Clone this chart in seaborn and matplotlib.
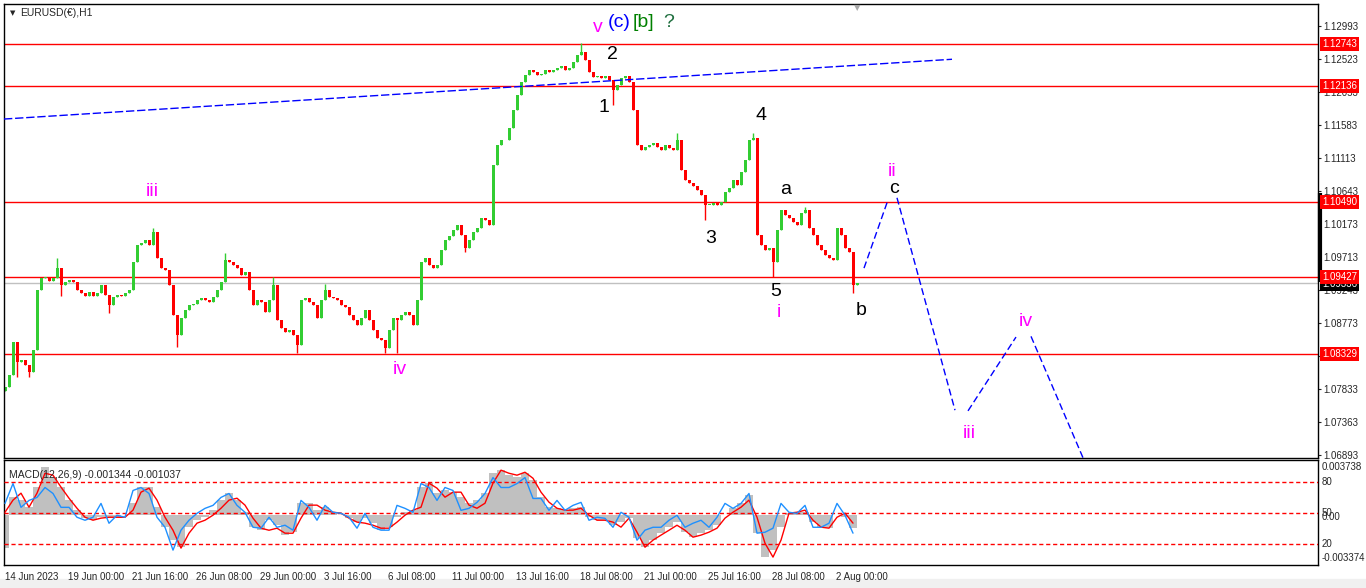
import numpy as np
import matplotlib
matplotlib.use("Agg")
import matplotlib.pyplot as plt
import matplotlib.transforms as mtransforms
import seaborn as sns

# EURUSD H1, closes every 4 bars (bar 0 = 14 Jun 2023 08:00)
closes = [
    1.0786, 1.0803, 1.0850, 1.0822, 1.0824, 1.0817, 1.0807, 1.0839, 1.0924, 1.0941,
    1.0942, 1.0937, 1.0941, 1.0955, 1.0931, 1.0935, 1.0938, 1.0935, 1.0924, 1.0920,
    1.0915, 1.0921, 1.0915, 1.0920, 1.0931, 1.0917, 1.0903, 1.0914, 1.0917, 1.0915,
    1.0920, 1.0924, 1.0964, 1.0988, 1.0991, 1.0995, 1.0988, 1.1006, 1.0969, 1.0955,
    1.0952, 1.0931, 1.0888, 1.0860, 1.0884, 1.0896, 1.0903, 1.0904, 1.0910, 1.0913,
    1.0910, 1.0907, 1.0914, 1.0924, 1.0935, 1.0967, 1.0964, 1.0960, 1.0955, 1.0945,
    1.0950, 1.0924, 1.0903, 1.0910, 1.0907, 1.0893, 1.0910, 1.0931, 1.0881, 1.0870,
    1.0864, 1.0867, 1.0860, 1.0846, 1.0910, 1.0913, 1.0907, 1.0903, 1.0884, 1.0910,
    1.0924, 1.0914, 1.0913, 1.0910, 1.0903, 1.0900, 1.0888, 1.0881, 1.0874, 1.0884,
    1.0896, 1.0881, 1.0867, 1.0856, 1.0853, 1.0841, 1.0867, 1.0884, 1.0881, 1.0888,
    1.0893, 1.0888, 1.0874, 1.0910, 1.0964, 1.0969, 1.0960, 1.0955, 1.0960, 1.0981,
    1.0995, 1.1001, 1.1009, 1.1016, 1.1002, 1.0984, 1.0995, 1.1006, 1.1012, 1.1026,
    1.1024, 1.1016, 1.1102, 1.1130, 1.1137, 1.1137, 1.1154, 1.1180, 1.1201, 1.1220,
    1.1230, 1.1237, 1.1234, 1.1230, 1.1231, 1.1237, 1.1234, 1.1237, 1.1240, 1.1242,
    1.1237, 1.1240, 1.1248, 1.1258, 1.1262, 1.1251, 1.1234, 1.1227, 1.1228, 1.1225,
    1.1228, 1.1223, 1.1208, 1.1215, 1.1225, 1.1228, 1.1220, 1.1180, 1.1130, 1.1123,
    1.1127, 1.1130, 1.1133, 1.1127, 1.1123, 1.1130, 1.1126, 1.1123, 1.1137, 1.1095,
    1.1080, 1.1076, 1.1072, 1.1066, 1.1059, 1.1045, 1.1045, 1.1048, 1.1045, 1.1049,
    1.1063, 1.1069, 1.1080, 1.1073, 1.1092, 1.1109, 1.1137, 1.1140, 1.1002, 1.0988,
    1.0981, 1.0984, 1.0964, 1.1009, 1.1038, 1.1031, 1.1026, 1.1021, 1.1016, 1.1033,
    1.1038, 1.1012, 1.1002, 1.0988, 1.0981, 1.0974, 1.0969, 1.0967, 1.1012, 1.1002,
    1.0984, 1.0978, 1.0931, 1.0934,
]
first_open = 1.0780

# long wicks (candle index, price)
wick_hi_idx = [13, 37, 55, 67, 80, 144, 168, 187, 200]
wick_hi = [1.0969, 1.1012, 1.0977, 1.0942, 1.0932, 1.1275, 1.1147, 1.1147, 1.1042]
wick_lo_idx = [3, 6, 14, 26, 43, 73, 95, 98, 115, 152, 175, 192, 212]
wick_lo = [1.0800, 1.0800, 1.0916, 1.0891, 1.0843, 1.0835, 1.0835, 1.0835,
           1.0978, 1.1187, 1.1023, 1.0943, 1.0919]

# horizontal levels
red_levels = [1.12743, 1.12136, 1.10490, 1.09427, 1.08329]
bid_price = 1.09336
price_ticks = [1.12993, 1.12523, 1.12053, 1.11583, 1.11113, 1.10643, 1.10173,
               1.09713, 1.09243, 1.08773, 1.08303, 1.07833, 1.07363, 1.06893]

# blue dashed trend line
trend_bars = [-1, 947]
trend_prices = [1.1167, 1.1252]

# projected wave path (dashed), one pair per segment
proj_bars = [[859, 883], [892, 950], [963, 1011], [1026, 1079]]
proj_prices = [[1.0955, 1.1052], [1.1055, 1.0753], [1.0752, 1.0857], [1.0858, 1.0682]]

# indicator window, sampled every 8 bars
macd_hist = [
    -0.00223, 0.00122, 0.00102, 0.00054, 0.00190, 0.00325, 0.00257, 0.00190, 0.00102, 0.00034,
    -0.00020, -0.00034, -0.00014, -0.00014, -0.00020, 0.00000, 0.00081, 0.00190, 0.00190, 0.00054,
    -0.00081, -0.00169, -0.00217, -0.00081, -0.00034, -0.00014, 0.00034, 0.00102, 0.00149, 0.00102,
    0.00020, -0.00081, -0.00102, -0.00034, -0.00068, -0.00135, -0.00115, 0.00081, 0.00081, 0.00034,
    0.00054, 0.00020, 0.00000, -0.00020, -0.00047, -0.00020, -0.00054, -0.00102, -0.00081, -0.00014,
    0.00020, 0.00034, 0.00190, 0.00217, 0.00149, 0.00169, 0.00156, 0.00122, 0.00081, 0.00102,
    0.00149, 0.00284, 0.00305, 0.00271, 0.00257, 0.00284, 0.00237, 0.00122, 0.00054, 0.00047,
    0.00034, 0.00047, 0.00054, -0.00014, -0.00034, -0.00034, -0.00068, -0.00047, -0.00020, -0.00156,
    -0.00217, -0.00169, -0.00122, -0.00081, -0.00047, -0.00115, -0.00149, -0.00122, -0.00102, -0.00068,
    0.00000, 0.00047, 0.00081, 0.00135, -0.00122, -0.00284, -0.00237, -0.00081, 0.00014, 0.00020,
    0.00020, -0.00047, -0.00081, -0.00088, 0.00000, -0.00014, -0.00088,
]
macd_signal = [
    0.00020, 0.00102, 0.00149, 0.00054, 0.00149, 0.00284, 0.00271, 0.00190, 0.00115, 0.00047,
    -0.00014, -0.00034, -0.00020, -0.00014, -0.00014, -0.00014, 0.00034, 0.00156, 0.00183, 0.00102,
    -0.00014, -0.00102, -0.00223, -0.00122, -0.00054, -0.00034, 0.00000, 0.00047, 0.00102, 0.00115,
    0.00068, -0.00020, -0.00088, -0.00102, -0.00088, -0.00122, -0.00122, -0.00020, 0.00068, 0.00068,
    0.00034, 0.00020, 0.00014, -0.00020, -0.00047, -0.00054, -0.00068, -0.00088, -0.00088, -0.00047,
    0.00000, 0.00034, 0.00054, 0.00217, 0.00183, 0.00122, 0.00156, 0.00156, 0.00068, 0.00047,
    0.00081, 0.00217, 0.00305, 0.00284, 0.00271, 0.00291, 0.00250, 0.00156, 0.00088, 0.00047,
    0.00034, 0.00034, 0.00047, 0.00000, -0.00034, -0.00034, -0.00047, -0.00081, -0.00020, -0.00115,
    -0.00217, -0.00169, -0.00135, -0.00102, -0.00068, -0.00102, -0.00149, -0.00135, -0.00115, -0.00088,
    -0.00020, 0.00020, 0.00054, 0.00102, -0.00014, -0.00190, -0.00284, -0.00169, 0.00014, 0.00020,
    0.00034, -0.00034, -0.00081, -0.00088, -0.00014, 0.00014, -0.00054,
]
stoch = [
    59.6, 78.8, 55.8, 62.5, 65.4, 75.0, 69.2, 55.8, 55.8, 46.2,
    43.3, 46.2, 59.6, 40.4, 48.1, 46.2, 72.1, 75.0, 69.2, 46.2,
    36.5, 14.4, 33.7, 43.3, 50.0, 54.8, 57.7, 65.4, 69.2, 57.7,
    51.0, 36.5, 35.6, 46.2, 36.5, 38.5, 33.7, 62.5, 55.8, 43.3,
    57.7, 51.0, 50.0, 46.2, 35.6, 50.0, 36.5, 33.7, 33.7, 57.7,
    54.8, 51.0, 78.8, 75.0, 62.5, 75.0, 72.1, 52.9, 54.8, 60.6,
    69.2, 84.6, 75.0, 75.0, 78.8, 84.6, 64.4, 64.4, 52.9, 62.5,
    52.9, 57.7, 60.6, 43.3, 46.2, 45.2, 36.5, 51.0, 46.2, 24.0,
    33.7, 36.5, 36.5, 43.3, 48.1, 36.5, 40.4, 43.3, 36.5, 46.2,
    59.6, 54.8, 59.6, 69.2, 30.8, 31.7, 35.6, 59.6, 51.0, 50.0,
    57.7, 36.5, 36.5, 40.4, 59.6, 48.1, 30.8,
]
stoch_levels = [80, 50, 20]

date_labels = ["14 Jun 2023", "19 Jun 00:00", "21 Jun 16:00", "26 Jun 08:00", "29 Jun 00:00",
               "3 Jul 16:00", "6 Jul 08:00", "11 Jul 00:00", "13 Jul 16:00", "18 Jul 08:00",
               "21 Jul 00:00", "25 Jul 16:00", "28 Jul 08:00", "2 Aug 00:00"]

MAG = "#ff00ff"
# wave count labels: text, bar, baseline price, colour
waves = [
    ("v", 593, 1.12908, MAG), ("2", 607, 1.12524, "black"), ("1", 599, 1.11770, "black"),
    ("4", 756, 1.11656, "black"), ("3", 706, 1.09907, "black"), ("5", 771, 1.09154, "black"),
    ("i", 774, 1.08855, MAG), ("a", 781, 1.10604, "black"), ("b", 856, 1.08883, "black"),
    ("ii", 887, 1.10860, MAG), ("c", 889, 1.10618, "black"), ("iii", 147, 1.10576, MAG),
    ("iv", 395, 1.08045, MAG), ("iv", 1021, 1.08727, MAG), ("iii", 964, 1.07134, MAG),
]

sns.set_style("white")
plt.rcParams['font.family'] = ['Liberation Sans', 'DejaVu Sans']

W, H = 1366, 588
fig = plt.figure(figsize=(W / 100, H / 100), dpi=100)
fig.patch.set_facecolor("white")


def box(l, t, r, b):
    return [l / W, 1 - b / H, (r - l) / W, (b - t) / H]


ax = fig.add_axes(box(4, 4, 1318, 458))
axm = fig.add_axes(box(4, 460, 1318, 565))
for a in (ax, axm):
    a.set_xlim(-1, 1313)
    for s in a.spines.values():
        s.set_color("black")
        s.set_linewidth(1)

# ---- price panel ----
ax.set_ylim(1.06850, 1.13306)
for lv in red_levels:
    ax.axhline(lv, color="#ff0000", lw=1, zorder=1)
ax.axhline(bid_price, color="#c0c0c0", lw=1, zorder=1)

c = np.array(closes)
o = np.r_[first_open, c[:-1]]
hi = np.maximum(o, c)
lo = np.minimum(o, c)
hi[wick_hi_idx] = np.maximum(hi[wick_hi_idx], wick_hi)
lo[wick_lo_idx] = np.minimum(lo[wick_lo_idx], wick_lo)
bars = np.arange(len(c)) * 4
col = np.where(c >= o, "#32cd32", "#ff0000")
ax.vlines(bars, lo, hi, colors=col, lw=1, zorder=2)
ax.bar(bars, np.maximum(np.abs(c - o), 0.00007), bottom=np.minimum(o, c),
       width=3.0, color=col, lw=0, zorder=2)

ax.plot(trend_bars, trend_prices, color="#0000ff", lw=1, dashes=[6, 2], zorder=3)
for xb, yp in zip(proj_bars, proj_prices):
    ax.plot(xb, yp, color="#0000ff", lw=1, dashes=[5, 2.5], zorder=3)

for txt, xb, yp, cl in waves:
    ax.text(xb, yp, txt, color=cl, fontsize=14, ha="center", va="baseline", zorder=4)
ax.text(603, 1.12979, "(c)", color="#0000ff", fontsize=14, ha="left", va="baseline")
ax.text(628, 1.12979, "[b]", color="#008000", fontsize=14, ha="left", va="baseline")
ax.text(658, 1.12979, "?", color="#1f6f3f", fontsize=14, ha="left", va="baseline")

ax.text(852, 1.13263, "\u25bc", color="#a8a8a8", fontsize=6, ha="center", va="center",
        family=["DejaVu Sans"])
ax.text(0.0068, 0.980, "\u25bc", transform=ax.transAxes, fontsize=5, ha="center",
        va="center", family=["DejaVu Sans"])
ax.text(0.0122, 0.980, "EURUSD(\u20ac),H1", transform=ax.transAxes, fontsize=7.5,
        ha="left", va="center")

ax.set_xticks([])
ax.yaxis.tick_right()
ax.set_yticks(price_ticks)
# 1.08303 sits fully under the 1.08329 level box, so its label stays blank
ax.set_yticklabels(["" if p == 1.08303 else f"{p:.5f}" for p in price_ticks])
ax.tick_params(axis="y", length=2.5, pad=1.5, labelsize=7, width=0.8)

edge = mtransforms.blended_transform_factory(ax.transAxes, ax.transData)
ax.plot([1.0015, 1.0015], [1.1062, 1.0935], transform=edge, color="black", lw=3,
        solid_capstyle="butt", clip_on=False, zorder=5)
ax.text(1.0030, bid_price - 0.0001, f"{bid_price:.5f}", transform=edge, fontsize=7,
        color="white", ha="left", va="center", clip_on=False, zorder=6,
        bbox=dict(boxstyle="square,pad=0.2", fc="black", ec="none"))
for lv in red_levels:
    ax.text(1.0030, lv, f"{lv:.5f}", transform=edge, fontsize=7, color="white",
            ha="left", va="center", clip_on=False, zorder=7,
            bbox=dict(boxstyle="square,pad=0.2", fc="#ff0000", ec="none"))

# ---- indicator panel ----
axm.set_ylim(-0.003374, 0.003738)
xi = np.arange(len(macd_hist)) * 8
axm.bar(xi, macd_hist, width=8, color="#c0c0c0", lw=0, zorder=1)
sns.lineplot(x=np.arange(len(macd_signal)) * 8, y=macd_signal, ax=axm,
             color="#ff0000", lw=1, zorder=3)
axm.set_yticks([])
axm.set_ylabel("")

axs = axm.twinx()
axs.set_ylim(0, 101.6)
axs.set_xlim(-1, 1313)
for lv in stoch_levels:
    axs.axhline(lv, color="#ff0000", lw=1, dashes=[3, 2])
sns.lineplot(x=np.arange(len(stoch)) * 8, y=stoch, ax=axs, color="#1e90ff", lw=1)
axs.set_yticks([])
axs.set_ylabel("")
for s in axs.spines.values():
    s.set_visible(False)

axm.text(0.004, 0.86, "MACD(12,26,9) -0.001344 -0.001037", transform=axm.transAxes,
         fontsize=7.5, ha="left", va="center", zorder=5)
for txt, fy in [("0.003738", 0.933), ("80", 0.790), ("0.00", 0.457), ("50", 0.495),
                ("20", 0.200), ("-0.003374", 0.067)]:
    axm.text(1.003, fy, txt, transform=axm.transAxes, fontsize=7, ha="left",
             va="center", clip_on=False)

date_ticks = [0] + list(range(63, 832, 64))
axm.set_xticks(date_ticks)
axm.set_xticklabels(date_labels, ha="left")
axm.tick_params(axis="x", length=3, pad=2, labelsize=7, width=0.8, direction="out")

fig.patches.append(plt.Rectangle((0, 0), 1, 9 / H, transform=fig.transFigure,
                                 color="#f0f0f0", zorder=-1))

fig.savefig("out.png", dpi=100)
